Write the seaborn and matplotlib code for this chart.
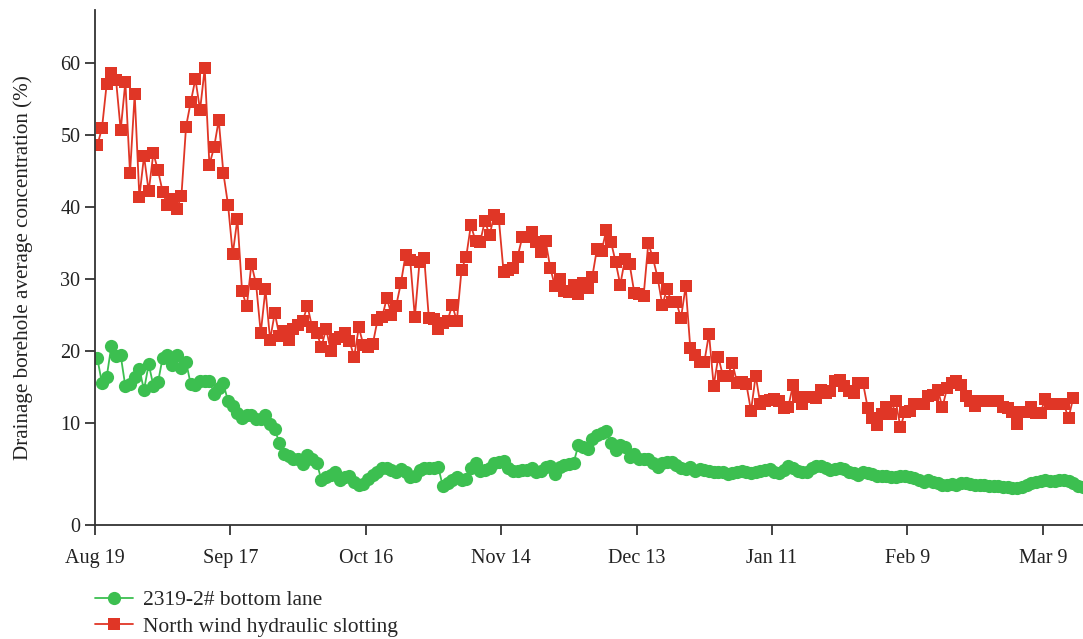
import numpy as np
import pandas as pd
import matplotlib
matplotlib.use('Agg')
import matplotlib.pyplot as plt
import seaborn as sns

# 数据
green_vals = [19.0, 15.5, 16.4, 20.7, 19.3, 19.4, 15.1, 15.4, 16.4, 17.5,
              14.6, 18.2, 15.2, 15.7, 19.1, 19.5, 18.1, 19.5, 17.6, 18.5,
              15.4, 15.3, 15.8, 15.9, 15.9, 14.1, 14.9, 15.5, 13.0, 12.4,
              11.4, 10.7, 11.1, 11.1, 10.6, 10.6,
              11.1, 9.9, 9.4, 8.0, 7.0, 6.8, 6.5, 6.5, 6.0, 6.9,
              6.5, 6.1, 4.4, 4.7, 4.9, 5.2, 4.4, 4.7, 4.8, 4.2,
              3.9, 4.0, 4.5, 4.9, 5.2, 5.6, 5.6, 5.4, 5.2, 5.5,
              5.2, 4.7, 4.8, 5.4, 5.6,
              5.6, 5.6, 5.7, 3.8, 4.1, 4.4, 4.7, 4.4, 4.5, 5.6,
              6.1, 5.3, 5.4, 5.6, 6.1, 6.2, 6.3, 5.6, 5.3, 5.3,
              5.4, 5.4, 5.6, 5.2, 5.3, 5.7, 5.8, 5.0, 5.7, 5.9,
              6.0, 6.1, 7.8, 7.7, 7.5, 8.4,
              8.8, 9.0, 9.2, 8.0, 7.4, 7.8, 7.7, 6.7, 7.0, 6.5,
              6.5, 6.5, 6.1, 5.7, 6.1, 6.2, 6.2, 5.9, 5.6, 5.5,
              5.7, 5.3, 5.5, 5.4, 5.3, 5.2, 5.2, 5.2, 5.0, 5.1,
              5.2, 5.3, 5.2, 5.1, 5.2,
              5.3, 5.4, 5.5, 5.2, 5.1, 5.4, 5.8, 5.6, 5.3, 5.2,
              5.2, 5.6, 5.8, 5.8, 5.6, 5.4, 5.5, 5.6, 5.5, 5.2,
              5.1, 4.9, 5.2, 5.1, 5.0, 4.8, 4.8, 4.8, 4.7, 4.7,
              4.8, 4.8, 4.7, 4.6, 4.4, 4.2,
              4.4, 4.2, 4.1, 3.9, 3.9, 4.0, 3.9, 4.1, 4.1, 4.0,
              3.9, 3.9, 3.9, 3.8, 3.8, 3.8, 3.7, 3.7, 3.6, 3.6,
              3.7, 3.9, 4.1, 4.2, 4.3, 4.4, 4.3, 4.3, 4.4, 4.4,
              4.3, 4.1, 3.8, 3.7]

red_vals = [48.6, 51.0, 57.1, 58.6, 57.7, 50.7, 57.4, 44.7, 55.7, 41.4,
            47.1, 42.2, 47.5, 45.1, 42.1, 40.3, 41.2, 39.8, 41.5, 51.2,
            54.6, 57.8, 53.5, 59.3, 45.9, 48.3, 52.1, 44.7, 40.3, 33.5,
            38.4, 28.3, 26.2, 32.1, 29.3, 22.5,
            28.6, 21.6, 25.3, 22.1, 22.8, 21.5, 23.1, 23.6, 24.2, 26.3,
            23.3, 22.5, 20.6, 23.1, 20.0, 21.7, 22.0, 22.5, 21.4, 19.2,
            23.3, 20.8, 20.5, 21.0, 24.3, 24.7, 27.4, 25.0, 26.3, 29.4,
            33.3, 32.7, 24.7, 32.4, 33.0, 24.6,
            24.5, 23.1, 23.9, 24.2, 26.4, 24.2, 31.3, 33.1, 37.5, 35.3,
            35.2, 38.1, 36.1, 38.9, 38.3, 31.0, 31.3, 31.5, 33.1, 35.8,
            35.8, 36.5, 35.1, 33.8, 35.3, 31.6, 29.0, 30.0, 28.4, 28.2,
            29.2, 27.9, 29.4, 28.8, 30.3,
            34.2, 33.9, 36.8, 35.2, 32.4, 29.2, 32.8, 32.1, 28.1, 27.9,
            27.7, 35.0, 32.9, 30.2, 26.4, 28.6, 26.8, 26.8, 24.6, 29.0,
            20.4, 19.5, 18.5, 18.5, 22.4, 15.2, 19.2, 16.5, 16.5, 18.4,
            15.6, 15.7, 15.4, 11.7, 16.6,
            12.6, 13.0, 13.2, 13.3, 13.1, 12.1, 12.3, 15.3, 13.6, 12.6,
            13.6, 13.6, 13.5, 14.6, 14.2, 14.4, 15.8, 16.0, 15.1, 14.4,
            14.2, 15.5, 15.5, 12.1, 10.7, 9.8, 11.2, 12.2, 11.3, 13.0,
            9.6, 11.6, 11.7, 12.7,
            12.7, 12.7, 13.7, 13.9, 14.6, 12.2, 14.9, 15.6, 15.8, 15.3,
            13.7, 13.1, 12.4, 13.1, 13.1, 13.1, 13.1, 13.1, 12.3, 12.1,
            11.5, 9.9, 11.5, 11.5, 12.2, 11.4, 11.4, 13.4, 12.7, 12.7,
            12.6, 12.6, 10.7, 13.5]

series_names = ['2319-2# bottom lane', 'North wind hydraulic slotting']
tick_labels = ['Aug 19', 'Sep 17', 'Oct 16', 'Nov 14', 'Dec 13', 'Jan 11', 'Feb 9', 'Mar 9']
y_ticks = [0, 10, 20, 30, 40, 50, 60]

start = pd.Timestamp('2019-08-19')
# readings taken around midday
first_reading = start + pd.Timedelta(hours=12)
df_g = pd.DataFrame({'date': pd.date_range(first_reading, periods=len(green_vals), freq='D'), 'val': green_vals})
df_r = pd.DataFrame({'date': pd.date_range(first_reading, periods=len(red_vals), freq='D'), 'val': red_vals})
tick_dates = pd.date_range(start, periods=len(tick_labels), freq='29D')

sns.set_style('ticks')
plt.rcParams['font.family'] = ['Liberation Serif', 'DejaVu Serif']
plt.rcParams['axes.edgecolor'] = '#333333'

fig = plt.figure(figsize=(10.83, 6.39), dpi=100)
ax = fig.add_axes([95/1083, (639-525)/639, (1083-95)/1083, (525-10)/639])

# 0-10 stretched relative to 10-60
k = 10.2 / 7.2
def fwd(v):
    v = np.asarray(v, dtype=float)
    return np.where(v <= 10, v * k, 10 * k + (v - 10))
def inv(u):
    u = np.asarray(u, dtype=float)
    return np.where(u <= 10 * k, u / k, u - 10 * k + 10)
ax.set_yscale('function', functions=(fwd, inv))

green = '#3cbf50'
red = '#e03626'
sns.lineplot(data=df_g, x='date', y='val', ax=ax, color=green, marker='o',
             markersize=9.5, markeredgewidth=0, linewidth=1.3, label=series_names[0])
sns.lineplot(data=df_r, x='date', y='val', ax=ax, color=red, marker='s',
             markersize=9, markeredgewidth=0, linewidth=1.3, label=series_names[1])

ax.set_ylim(0, 67.4)
ax.set_xlim(start, start + pd.Timedelta(days=211.6))
ax.set_yticks(y_ticks)
ax.set_yticklabels([str(t) for t in y_ticks])
ax.set_xticks(tick_dates)
ax.set_xticklabels(tick_labels)
ax.tick_params(axis='both', direction='out', length=7, width=1.2, labelsize=14.5, colors='#222222')
ax.tick_params(axis='x', pad=10)
ax.set_xlabel('')
ax.set_ylabel('Drainage borehole average concentration (%)', fontsize=15.2, color='#222222', labelpad=20)
for s in ['top', 'right']:
    ax.spines[s].set_visible(False)
for s in ['left', 'bottom']:
    ax.spines[s].set_linewidth(1.3)

ax.legend(loc='upper left', bbox_to_anchor=(95/1083, 1 - 590/639), bbox_transform=fig.transFigure,
          frameon=False, fontsize=15.5, handlelength=1.75, handletextpad=0.5,
          borderpad=0, borderaxespad=0, labelspacing=0.3)

fig.savefig('out.png', dpi=100)
